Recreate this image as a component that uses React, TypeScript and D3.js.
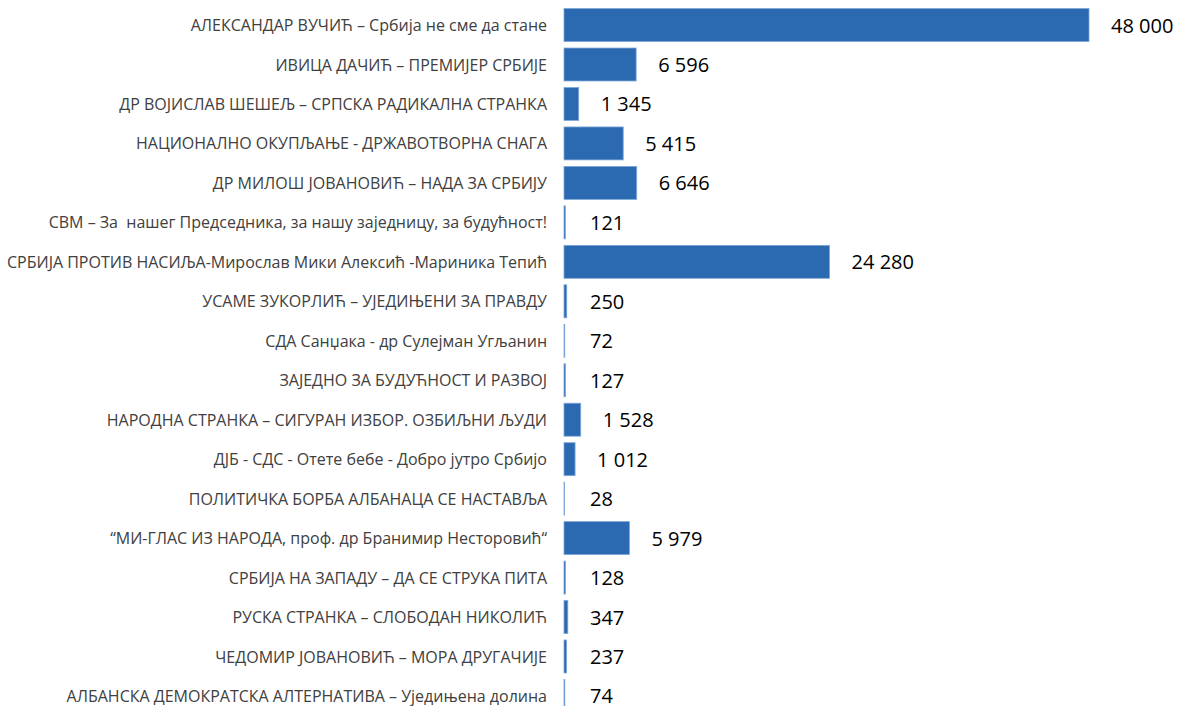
import React from 'react';
import * as d3 from 'd3';

const categories = [
  'АЛЕКСАНДАР ВУЧИЋ – Србија не сме да стане',
  'ИВИЦА ДАЧИЋ – ПРЕМИЈЕР СРБИЈЕ',
  'ДР ВОЈИСЛАВ ШЕШЕЉ – СРПСКА РАДИКАЛНА СТРАНКА',
  'НАЦИОНАЛНО ОКУПЉАЊЕ - ДРЖАВОТВОРНА СНАГА',
  'ДР МИЛОШ ЈОВАНОВИЋ – НАДА ЗА СРБИЈУ',
  'СВМ – За  нашег Председника, за нашу заједницу, за будућност!',
  'СРБИЈА ПРОТИВ НАСИЉА-Мирослав Мики Алексић -Мариника Тепић',
  'УСАМЕ ЗУКОРЛИЋ – УЈЕДИЊЕНИ ЗА ПРАВДУ',
  'СДА Санџака - др Сулејман Угљанин',
  'ЗАЈЕДНО ЗА БУДУЋНОСТ И РАЗВОЈ',
  'НАРОДНА СТРАНКА – СИГУРАН ИЗБОР. ОЗБИЉНИ ЉУДИ',
  'ДЈБ - СДС - Отете бебе - Добро јутро Србијо',
  'ПОЛИТИЧКА БОРБА АЛБАНАЦА СЕ НАСТАВЉА',
  '“МИ-ГЛАС ИЗ НАРОДА, проф. др Бранимир Несторовић“',
  'СРБИЈА НА ЗАПАДУ – ДА СЕ СТРУКА ПИТА',
  'РУСКА СТРАНКА – СЛОБОДАН НИКОЛИЋ',
  'ЧЕДОМИР ЈОВАНОВИЋ – МОРА ДРУГАЧИЈЕ',
  'АЛБАНСКА ДЕМОКРАТСКА АЛТЕРНАТИВА – Уједињена долина',
];

const values = [48000, 6596, 1345, 5415, 6646, 121, 24280, 250, 72, 127, 1528, 1012, 28, 5979, 128, 347, 237, 74];

const width = 1178;
const height = 706;

const fmt = d3.formatLocale({ decimal: ',', thousands: ' ', grouping: [3], currency: ['', ''] }).format(',d');

const App = () => {
  const x = d3.scaleLinear().domain([0, 48000]).range([564, 1089]);
  const y = d3
    .scaleBand()
    .domain(categories)
    .range([5.3, 715.7])
    .paddingInner(0.165)
    .paddingOuter(0.0825);

  const data = categories.map((c, i) => ({ name: c, value: values[i] }));

  return (
    <svg
      width={width}
      height={height}
      style={{ position: 'absolute', left: 0, top: 0, display: 'block', background: '#fff' }}
    >
      {data.map(d => {
        const cy = y(d.name) + y.bandwidth() / 2;
        const w = x(d.value) - x(0);
        return (
          <g key={d.name}>
            <text
              x={547}
              y={cy}
              textAnchor="end"
              dominantBaseline="central"
              fontFamily="'Open Sans', sans-serif"
              fontSize={16}
              fill="#404040"
              style={{ whiteSpace: 'pre' }}
            >
              {d.name}
            </text>
            <rect
              x={x(0)}
              y={y(d.name)}
              width={Math.max(w, 0.5)}
              height={y.bandwidth()}
              fill="#2b6ab1"
              stroke="#7ea6d8"
              strokeWidth={0.8}
            />
            <text
              x={Math.max(x(d.value), x(0) + 4) + 22}
              y={cy}
              dominantBaseline="central"
              fontFamily="'Open Sans', sans-serif"
              fontSize={20}
              fill="#000"
            >
              {fmt(d.value)}
            </text>
          </g>
        );
      })}
    </svg>
  );
};

export default App;
